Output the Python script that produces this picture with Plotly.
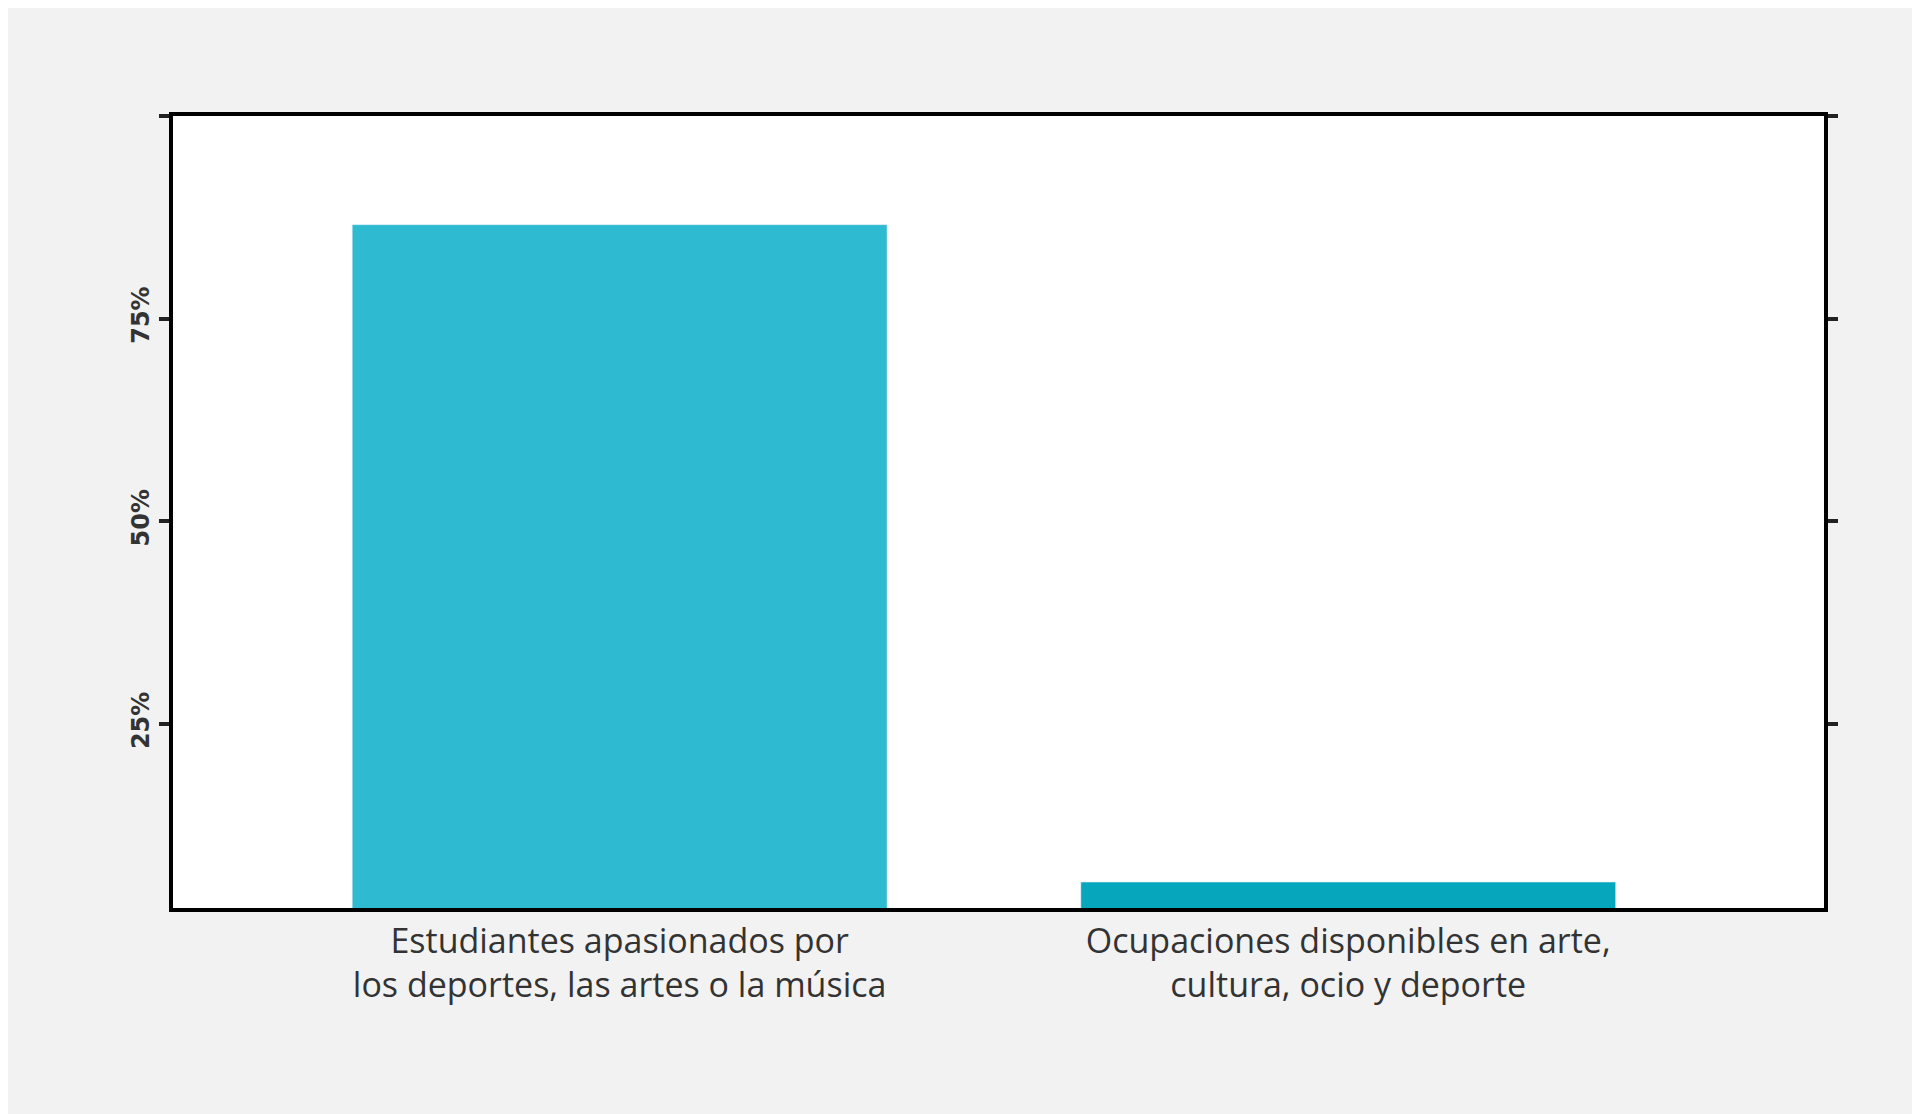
import plotly.graph_objects as go

categories = ["Estudiantes apasionados por<br>los deportes, las artes o la música",
              "Ocupaciones disponibles en arte,<br>cultura, ocio y deporte"]
values = [86.6, 5.5]
colors = ["#2EBBD1", "#06A7BD"]
y_tickvals = [25, 50, 75, 100]
y_ticktext = ["25%", "50%", "75%", ""]

fig = go.Figure(go.Bar(x=[0, 1], y=values, marker_color=colors, width=0.734,
                       hoverinfo="skip"))
fig.update_layout(
    width=1920, height=1114, paper_bgcolor="#F2F2F2", plot_bgcolor="white",
    margin=dict(l=165, r=104, t=108, b=214), showlegend=False,
)
fig.update_xaxes(range=[-0.613, 1.653], tickvals=[0, 1], ticktext=categories,
                 showline=True, linecolor="black", linewidth=4, mirror=True,
                 showgrid=False, ticks="", zeroline=False,
                 tickfont=dict(family="Open Sans", size=34, color="#333333"))
fig.update_yaxes(range=[2.3, 100], tickvals=y_tickvals, ticktext=y_ticktext,
                 tickangle=-90, showline=True, linecolor="black", linewidth=4,
                 mirror="ticks", ticks="outside", ticklen=10, tickwidth=4,
                 tickcolor="#222", showgrid=False, zeroline=False,
                 tickfont=dict(family="DejaVu Sans", size=24, color="#333333",
                               weight="bold"))
fig.write_html("out.html")
